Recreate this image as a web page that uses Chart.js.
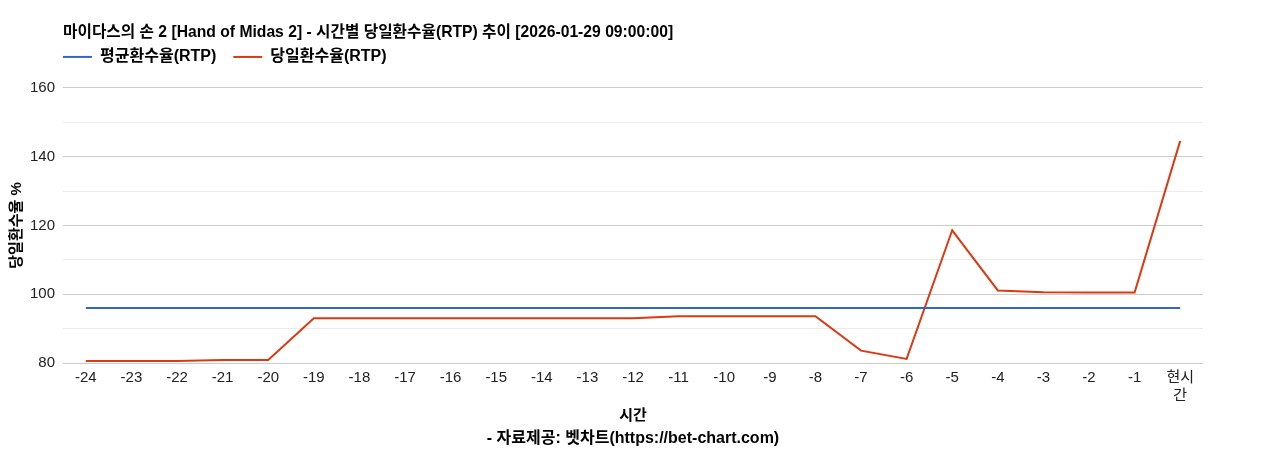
<!DOCTYPE html>
<html>
<head>
<meta charset="utf-8">
<script src="https://cdn.jsdelivr.net/npm/chart.js@4"></script>
<style>
  html, body { margin: 0; padding: 0; background: #fff; }
  #wrap { width: 1268px; height: 450px; }
</style>
</head>
<body>
<div id="wrap"><canvas id="rtpChart"></canvas></div>
<script>
const chartTitle = '마이다스의 손 2 [Hand of Midas 2] - 시간별 당일환수율(RTP) 추이 [2026-01-29 09:00:00]';
const creditText = '- 자료제공: 벳차트(https://bet-chart.com)';
const hours = ['-24', '-23', '-22', '-21', '-20', '-19', '-18', '-17', '-16', '-15', '-14', '-13',
    '-12', '-11', '-10', '-9', '-8', '-7', '-6', '-5', '-4', '-3', '-2', '-1', ['현시', '간']];
const avgRtp = [96, 96, 96, 96, 96, 96, 96, 96, 96, 96, 96, 96, 96,
    96, 96, 96, 96, 96, 96, 96, 96, 96, 96, 96, 96];
const dailyRtp = [80.6, 80.6, 80.6, 80.9, 80.9, 93.0, 93.0, 93.0, 93.0, 93.0, 93.0, 93.0, 93.0,
    93.6, 93.6, 93.6, 93.6, 83.6, 81.2, 118.6, 101.1, 100.6, 100.5, 100.5, 144.6];
const yTicks = [80, 100, 120, 140, 160];

const FONT = '"Liberation Sans", "Noto Sans CJK KR", Arial, sans-serif';
const LEGEND_PAD = 17;

// title and legend start at the plot's left edge, legend sits closer to the title,
// credit line is centred under the plot
const alignToPlot = {
    id: 'alignToPlot',
    afterLayout(chart) {
        const area = chart.chartArea;
        if (chart.titleBlock) chart.titleBlock.left = area.left;
        if (chart.legend) {
            chart.legend.left = area.left - LEGEND_PAD;
            chart.legend.top -= 13;
            chart.legend.bottom -= 13;
        }
        const credit = chart.boxes.find(b => b.options && b.options.text === creditText);
        if (credit) {
            credit.left = area.left;
            credit.right = area.right;
        }
    }
};

new Chart(document.getElementById('rtpChart').getContext('2d'), {
    type: 'line',
    data: {
        labels: hours,
        datasets: [{
            label: '평균환수율(RTP)',
            data: avgRtp,
            borderColor: '#3366cc',
            backgroundColor: '#3366cc',
            borderWidth: 2,
            pointRadius: 0,
            tension: 0
        }, {
            label: '당일환수율(RTP)',
            data: dailyRtp,
            borderColor: '#dc3912',
            backgroundColor: '#dc3912',
            borderWidth: 2,
            pointRadius: 0,
            tension: 0
        }]
    },
    options: {
        responsive: true,
        maintainAspectRatio: false,
        animation: false,
        layout: {
            padding: { left: 0, right: 65, top: 0, bottom: 0 }
        },
        plugins: {
            title: {
                display: true,
                text: chartTitle,
                align: 'start',
                color: '#000',
                font: { family: FONT, size: 15.7, weight: 'bold' },
                padding: { top: 23.6, bottom: 2.5 }
            },
            subtitle: {
                display: true,
                position: 'bottom',
                text: creditText,
                color: '#000',
                font: { family: FONT, size: 16, weight: 'bold' },
                padding: { top: 4.4, bottom: 1.4 }
            },
            legend: {
                align: 'start',
                labels: {
                    boxWidth: 29,
                    boxHeight: 2,
                    padding: LEGEND_PAD,
                    color: '#000',
                    font: { family: FONT, size: 16, weight: 'bold' },
                    generateLabels: function (chart) {
                        return Chart.defaults.plugins.legend.labels.generateLabels(chart)
                            .map(item => Object.assign(item, { lineWidth: 0 }));
                    }
                }
            },
            tooltip: { enabled: false }
        },
        scales: {
            x: {
                offset: true,
                grid: { display: false, drawTicks: false },
                border: { display: false },
                ticks: {
                    color: '#222',
                    maxRotation: 0,
                    autoSkip: false,
                    padding: 6,
                    font: { family: FONT, size: 15 }
                },
                title: {
                    display: true,
                    text: '시간',
                    color: '#000',
                    font: { family: FONT, size: 15, weight: 'bold' },
                    padding: { top: -4, bottom: 0 }
                }
            },
            y: {
                min: 80,
                max: 160,
                border: { display: false },
                grid: {
                    drawTicks: false,
                    color: function (ctx) {
                        return yTicks.includes(ctx.tick.value) ? '#cccccc' : '#ebebeb';
                    }
                },
                ticks: {
                    stepSize: 10,
                    color: '#222',
                    padding: 8,
                    font: { family: FONT, size: 15 },
                    callback: function (value) {
                        return yTicks.includes(value) ? value : '';
                    }
                },
                title: {
                    display: true,
                    text: '당일환수율 %',
                    color: '#000',
                    font: { family: FONT, size: 15, weight: 'bold' },
                    padding: { top: 8, bottom: -4 }
                }
            }
        }
    },
    plugins: [alignToPlot]
});
</script>
</body>
</html>
